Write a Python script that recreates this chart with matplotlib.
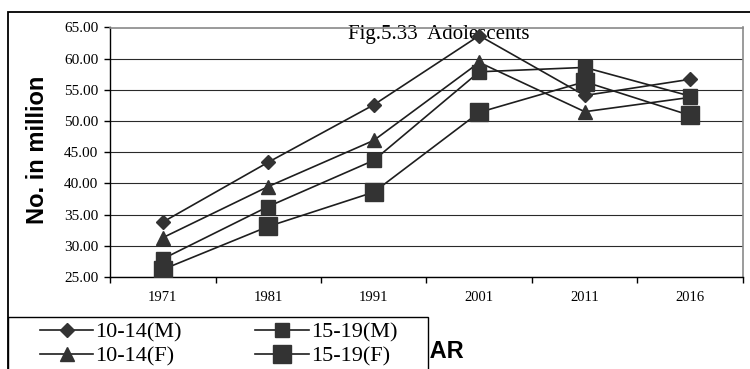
import numpy as np
import matplotlib
matplotlib.use('Agg')
import matplotlib.pyplot as plt
from matplotlib.patches import Rectangle

years = ['1971', '1981', '1991', '2001', '2011', '2016']
m_10_14 = [33.8, 43.4, 52.6, 63.7, 54.1, 56.7]
f_10_14 = [31.3, 39.5, 46.9, 59.4, 51.5, 53.8]
m_15_19 = [27.9, 36.3, 43.7, 57.9, 58.6, 54.0]
f_15_19 = [26.2, 33.1, 38.6, 51.4, 56.3, 50.9]
yticks = np.arange(25, 66, 5)

serif = 'Liberation Serif'
sans = 'Liberation Sans'

fig = plt.figure(figsize=(7.5, 3.69), dpi=100)
ax = fig.add_axes([110/750, 1-277/369, (743-110)/750, (277-27.5)/369])

x = np.arange(len(years))
lc = '#1e1e1e'
mc = '#333333'
ax.plot(x, m_10_14, color=lc, lw=1.2, marker='D', ms=7.5, mfc=mc, mec=mc, label='10-14(M)', zorder=3)
ax.plot(x, f_10_14, color=lc, lw=1.2, marker='^', ms=9.5, mfc=mc, mec=mc, label='10-14(F)', zorder=3)
ax.plot(x, m_15_19, color=lc, lw=1.2, marker='s', ms=10, mfc=mc, mec=mc, label='15-19(M)', zorder=3)
ax.plot(x, f_15_19, color=lc, lw=1.2, marker='s', ms=12.5, mfc=mc, mec=mc, label='15-19(F)', zorder=3)

ax.set_xlim(-0.5, len(years) - 0.5)
ax.set_ylim(25, 65)
ax.set_yticks(yticks)
ax.set_yticklabels(['%.2f' % v for v in yticks], fontfamily=serif, fontsize=11)
ax.set_xticks(x)
ax.set_xticklabels(years, fontfamily=serif, fontsize=10.5)
ax.set_xticks(np.arange(-0.5, len(years)), minor=True)
ax.tick_params(axis='x', which='major', length=0, pad=10)
ax.tick_params(axis='x', which='minor', length=4, width=1, direction='out')
ax.tick_params(axis='y', length=4.5, width=1, pad=4, direction='out')
ax.yaxis.grid(True, color='#2a2a2a', lw=0.8)
ax.set_axisbelow(True)
for s in ['top', 'right']:
    ax.spines[s].set_color('#8a8a8a')
    ax.spines[s].set_linewidth(1.2)
for s in ['left', 'bottom']:
    ax.spines[s].set_color('black')
    ax.spines[s].set_linewidth(1)

ax.text(0.52, 1.01, 'Fig.5.33  Adolescents', transform=ax.transAxes, ha='center', va='top',
        fontfamily=serif, fontsize=15, zorder=2)
fig.text(38/750, 1-150/369, 'No. in million', rotation=90, ha='center', va='center',
         fontfamily=sans, fontweight='bold', fontsize=17)
fig.text(431/750, 1-358/369, 'YEAR', ha='center', va='baseline',
         fontfamily=sans, fontweight='bold', fontsize=17)

# outer frame and legend box
fig.add_artist(Rectangle((8/750, -0.2), 1.0, 1.2 - 12/369, transform=fig.transFigure,
                         fill=False, ec='black', lw=1.3))
fig.add_artist(Rectangle((8/750, -0.2), (428-8)/750, 0.2 + 1-317/369, transform=fig.transFigure,
                         fc='white', ec='black', lw=1, zorder=5))

leg = fig.legend(loc='upper left', bbox_to_anchor=(40/750, 1-322/369), ncol=2, frameon=False,
                 prop={'family': serif, 'size': 16}, handlelength=2.4, handletextpad=0.1,
                 columnspacing=3.3, labelspacing=0.15, borderpad=0, borderaxespad=0)
leg.set_zorder(6)

fig.savefig('out.png', dpi=100)
